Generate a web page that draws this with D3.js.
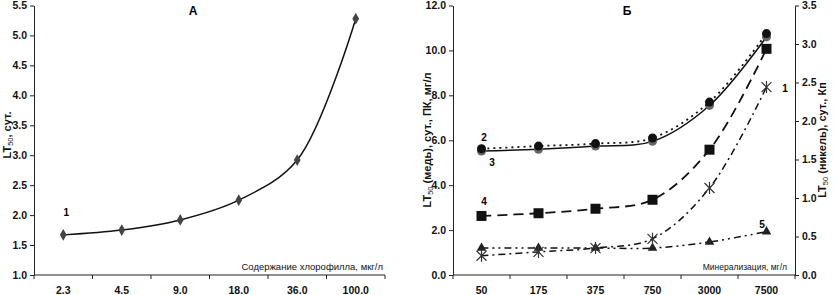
<!DOCTYPE html>
<html>
<head>
<meta charset="utf-8">
<script src="https://cdn.jsdelivr.net/npm/d3@7"></script>
<style>
  body { margin: 0; background: #fff; }
  svg { font-family: "Liberation Sans", Arial, sans-serif; }
  .tick text { font-size: 10.5px; font-weight: bold; fill: #111; }
  .domain, .tick line { stroke: #222; }
</style>
</head>
<body>
<svg id="chart" width="837" height="295"></svg>
<script>
// panel A data
const catsA = ["2.3", "4.5", "9.0", "18.0", "36.0", "100.0"]
const valsA = [1.67, 1.75, 1.92, 2.25, 2.92, 5.28]
const ticksA = [1.0, 1.5, 2.0, 2.5, 3.0, 3.5, 4.0, 4.5, 5.0, 5.5]

// panel B data
const catsB = ["50", "175", "375", "750", "3000", "7500"]
const ser2 = [5.62, 5.74, 5.85, 6.1, 7.7, 10.75]   // left axis
const ser3 = [5.52, 5.6, 5.74, 5.95, 7.55, 10.6]   // left axis
const ser4 = [2.63, 2.75, 2.95, 3.35, 5.58, 10.07] // left axis
const ser5 = [1.2, 1.2, 1.2, 1.2, 1.47, 1.93]      // left axis
const ser1 = [0.25, 0.3, 0.35, 0.47, 1.13, 2.44]   // right axis
const ticksBLeft = [0, 2, 4, 6, 8, 10, 12]
const ticksBRight = [0, 0.5, 1.0, 1.5, 2.0, 2.5, 3.0, 3.5]

const svg = d3.select('#chart')
const curve = d3.curveCatmullRom.alpha(0.5)

// x axis with ticks between categories
function catAxis(g, x, y0, cats) {
  g.append('line')
    .attr('x1', x.range()[0]).attr('x2', x.range()[1])
    .attr('y1', y0).attr('y2', y0)
    .attr('stroke', '#222')
  const bounds = cats.map(c => x(c)).concat([x.range()[1]])
  g.selectAll('.xt').data(bounds).join('line')
    .attr('x1', d => d).attr('x2', d => d)
    .attr('y1', y0).attr('y2', y0 + 4)
    .attr('stroke', '#222')
  g.selectAll('.xl').data(cats).join('text')
    .attr('x', d => x(d) + x.bandwidth() / 2)
    .attr('y', y0 + 19)
    .attr('text-anchor', 'middle')
    .attr('font-size', 10.5).attr('font-weight', 'bold').attr('fill', '#111')
    .text(d => d)
}

function rotLabel(x, y, rest) {
  const t = svg.append('text')
    .attr('transform', `translate(${x},${y}) rotate(-90)`)
    .attr('text-anchor', 'middle')
    .attr('font-size', 11).attr('font-weight', 'bold').attr('fill', '#111')
  t.append('tspan').text('LT')
  t.append('tspan').attr('font-size', 7.5).attr('font-weight', 'normal').attr('baseline-shift', '-2').text('50')
  t.append('tspan').text(rest)
}

function marker(g, type, cx, cy, fill) {
  if (type === 'diamond') {
    g.append('path').attr('d', d3.symbol(d3.symbolDiamond, 40)())
      .attr('transform', `translate(${cx},${cy})`).attr('fill', fill)
  } else if (type === 'circle') {
    g.append('circle').attr('cx', cx).attr('cy', cy).attr('r', 4.5).attr('fill', fill)
  } else if (type === 'square') {
    g.append('rect').attr('x', cx - 5).attr('y', cy - 5).attr('width', 10).attr('height', 10).attr('fill', fill)
  } else if (type === 'triangle') {
    g.append('path').attr('d', d3.symbol(d3.symbolTriangle, 40)())
      .attr('transform', `translate(${cx},${cy})`).attr('fill', fill)
  } else if (type === 'star') {
    const s = 5
    g.append('path')
      .attr('d', `M${cx - s},${cy - s}L${cx + s},${cy + s}M${cx - s},${cy + s}L${cx + s},${cy - s}M${cx},${cy - s - 1}L${cx},${cy + s + 1}`)
      .attr('stroke', fill).attr('stroke-width', 1.2).attr('fill', 'none')
  }
}

function series(g, x, y, cats, vals, dash, type, fill, width) {
  const line = d3.line().x((d, i) => x(cats[i]) + x.bandwidth() / 2).y(d => y(d)).curve(curve)
  g.append('path').datum(vals).attr('d', line)
    .attr('fill', 'none').attr('stroke', '#111').attr('stroke-width', width || 1.5)
    .attr('stroke-dasharray', dash)
  vals.forEach((v, i) => marker(g, type, x(cats[i]) + x.bandwidth() / 2, y(v), fill))
}

/////// panel A
const xA = d3.scaleBand().domain(catsA).range([34, 385])
const yA = d3.scaleLinear().domain([1, 5.5]).range([275, 5.5])
const gA = svg.append('g')
gA.append('g').attr('transform', 'translate(34,0)')
  .call(d3.axisLeft(yA).tickValues(ticksA).tickFormat(d3.format('.1f')).tickSize(4).tickSizeOuter(0))
catAxis(gA, xA, 275, catsA)
series(gA, xA, yA, catsA, valsA, null, 'diamond', '#444')
gA.append('text').attr('x', 193).attr('y', 15).attr('text-anchor', 'middle')
  .attr('font-size', 12).attr('font-weight', 'bold').text('А')
gA.append('text').attr('x', 383).attr('y', 270).attr('text-anchor', 'end')
  .attr('font-size', 9.5).attr('fill', '#111').text('Содержание хлорофилла, мкг/л')
gA.append('text').attr('x', xA(catsA[0]) + xA.bandwidth() / 2 + 3).attr('y', 216)
  .attr('font-size', 10).attr('font-weight', 'bold').attr('text-anchor', 'middle').text('1')
rotLabel(11, 135, ', сут.')

/////// panel B
const xB = d3.scaleBand().domain(catsB).range([453, 795])
const yBL = d3.scaleLinear().domain([0, 12]).range([275, 5.5])
const yBR = d3.scaleLinear().domain([0, 3.5]).range([275, 5.5])
const gB = svg.append('g')
gB.append('g').attr('transform', 'translate(453,0)')
  .call(d3.axisLeft(yBL).tickValues(ticksBLeft).tickFormat(d3.format('.1f')).tickSize(4).tickSizeOuter(0))
gB.append('g').attr('transform', 'translate(795,0)')
  .call(d3.axisRight(yBR).tickValues(ticksBRight).tickFormat(d3.format('.1f')).tickSize(4).tickSizeOuter(0))
catAxis(gB, xB, 275, catsB)

series(gB, xB, yBL, catsB, ser5, '7,4,2,4,2,4', 'triangle', '#222')
series(gB, xB, yBR, catsB, ser1, '7,4,2,4', 'star', '#333')
series(gB, xB, yBL, catsB, ser4, '10,6', 'square', '#111', 1.8)
series(gB, xB, yBL, catsB, ser3, null, 'circle', '#666')
series(gB, xB, yBL, catsB, ser2, '2,4', 'circle', '#111', 1.8)

gB.append('text').attr('x', 627).attr('y', 15).attr('text-anchor', 'middle')
  .attr('font-size', 12).attr('font-weight', 'bold').text('Б')
gB.append('text').attr('x', 787).attr('y', 270).attr('text-anchor', 'end')
  .attr('font-size', 8.5).attr('fill', '#111').text('Минерализация, мг/л')

const lab = [['2', 484, 141], ['3', 492, 166], ['4', 484, 205], ['5', 762, 228], ['1', 785, 92]]
lab.forEach(l => gB.append('text').attr('x', l[1]).attr('y', l[2]).attr('text-anchor', 'middle')
  .attr('font-size', 10).attr('font-weight', 'bold').text(l[0]))

rotLabel(431, 140, ' (медь), сут., ПК, мг/л')
rotLabel(826, 140, ' (никель), сут., Кп')
</script>
</body>
</html>
